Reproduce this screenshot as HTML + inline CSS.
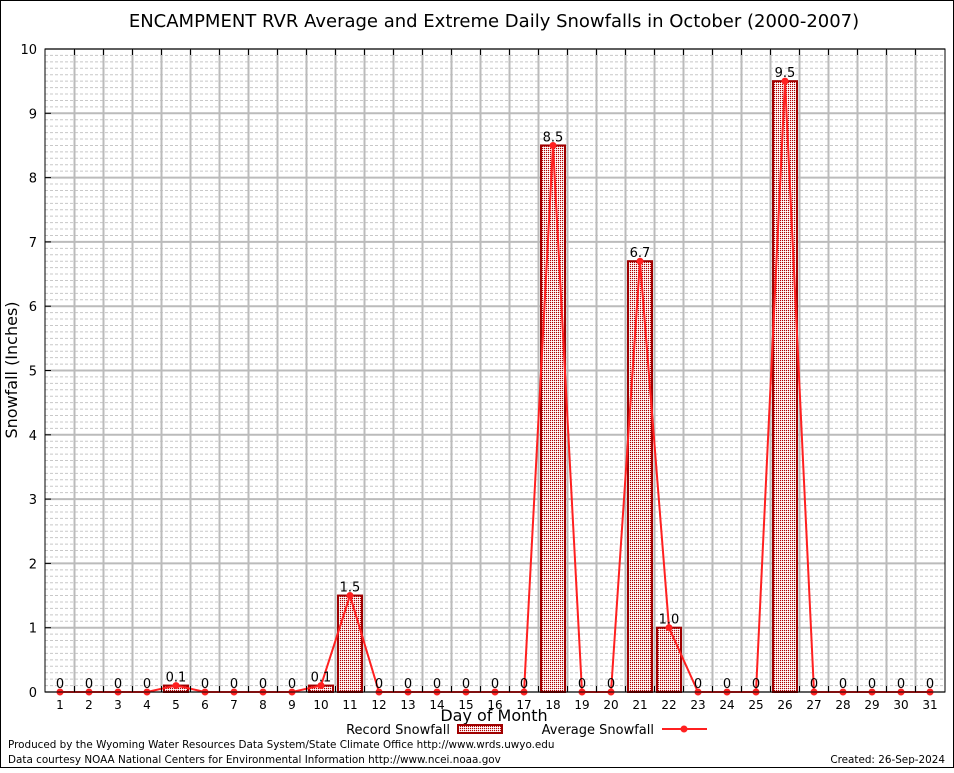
<!DOCTYPE html>
<html><head><meta charset="utf-8"><style>
body{margin:0;background:#fff}
svg text{font-family:"DejaVu Sans","Liberation Sans",sans-serif}
</style></head><body>
<svg id="chart" width="954" height="768" xmlns="http://www.w3.org/2000/svg">
<defs>
<pattern id="chk" width="2" height="2" patternUnits="userSpaceOnUse">
<rect width="2" height="2" fill="#f4d8d8"/><rect width="1" height="1" fill="#b00000"/><rect x="1" y="1" width="1" height="1" fill="#fff"/>
</pattern>
</defs>
<rect x="0.5" y="0.5" width="953" height="767" fill="#fff" stroke="#000"/>
<text x="494" y="27" font-size="18" text-anchor="middle">ENCAMPMENT RVR Average and Extreme Daily Snowfalls in October (2000-2007)</text>
<g id="grid"></g>
<g id="bars"></g>
<g id="line"></g>
<g id="labels"></g>
<g id="axes"></g>
<text x="17" y="370" font-size="16" text-anchor="middle" transform="rotate(-90 17 370)">Snowfall (Inches)</text>
<text x="494" y="721" font-size="16" text-anchor="middle">Day of Month</text>
<text x="450" y="734" font-size="13" text-anchor="end">Record Snowfall</text>
<rect x="458" y="725" width="44" height="8" fill="url(#chk)" stroke="#a00000" stroke-width="2"/>
<text x="654" y="734" font-size="13" text-anchor="end">Average Snowfall</text>
<line x1="662" y1="729" x2="707" y2="729" stroke="#ff2020" stroke-width="2"/>
<circle cx="684" cy="729" r="3.5" fill="#ff2020"/>
<text x="8" y="748" font-size="10.4">Produced by the Wyoming Water Resources Data System/State Climate Office http://www.wrds.uwyo.edu</text>
<text x="8" y="763" font-size="10.4">Data courtesy NOAA National Centers for Environmental Information http://www.ncei.noaa.gov</text>
<text x="945" y="763" font-size="10.4" text-anchor="end">Created: 26-Sep-2024</text>
</svg>
<script>
const days=[1,2,3,4,5,6,7,8,9,10,11,12,13,14,15,16,17,18,19,20,21,22,23,24,25,26,27,28,29,30,31];
const records=[0,0,0,0,0.1,0,0,0,0,0.1,1.5,0,0,0,0,0,0,8.5,0,0,6.7,1.0,0,0,0,9.5,0,0,0,0,0];
const averages=[0,0,0,0,0.1,0,0,0,0,0.1,1.5,0,0,0,0,0,0,8.5,0,0,6.7,1.0,0,0,0,9.5,0,0,0,0,0];
const recordLabels=["0","0","0","0","0.1","0","0","0","0","0.1","1.5","0","0","0","0","0","0","8.5","0","0","6.7","1.0","0","0","0","9.5","0","0","0","0","0"];
const yTicks=[0,1,2,3,4,5,6,7,8,9,10];
const L=45,R=945,T=49,B=692;
const x=d=>60+(d-1)*29;
const y=v=>B-(v/10)*(B-T);
const NS="http://www.w3.org/2000/svg";
function mk(p,tag,attrs){const e=document.createElementNS(NS,tag);for(const k in attrs)e.setAttribute(k,attrs[k]);p.appendChild(e);return e;}
const grid=document.getElementById('grid');
for(let i=1;i<100;i++){if(i%10===0)continue;
const e=mk(grid,'line',{x1:L,x2:R,y1:y(i/10),y2:y(i/10),stroke:'#c8c8c8','stroke-dasharray':'3,2','stroke-width':1});

}
yTicks.forEach(v=>{const e=mk(grid,'line',{x1:L,x2:R,y1:y(v),y2:y(v),stroke:'#bbb','stroke-width':2});

});
for(let d=1;d<31;d++){const xx=x(d)+14.5;const e=mk(grid,'line',{x1:xx,x2:xx,y1:T,y2:B,stroke:'#bbb','stroke-width':2});

}
const bars=document.getElementById('bars');
days.forEach((d,i)=>{if(records[i]<=0)return;
const e=mk(bars,'rect',{x:x(d)-12,y:y(records[i]),width:24,height:B-y(records[i]),fill:'url(#chk)',stroke:'#a00000','stroke-width':2});

});
const line=document.getElementById('line');
const pl=mk(line,'polyline',{points:days.map((d,i)=>x(d)+','+y(averages[i])).join(' '),fill:'none',stroke:'#ff2020','stroke-width':2});


days.forEach((d,i)=>{const c=mk(line,'circle',{cx:x(d),cy:y(averages[i]),r:3.5,fill:'#ff2020'});

});
const labels=document.getElementById('labels');
days.forEach((d,i)=>{const t=mk(labels,'text',{x:x(d),y:y(records[i])-4,'font-size':13,'text-anchor':'middle'});t.textContent=recordLabels[i];

});
const axes=document.getElementById('axes');
const fr=mk(axes,'rect',{x:L,y:T,width:R-L,height:B-T,fill:'none',stroke:'#000','stroke-width':1});


yTicks.forEach(v=>{const t=mk(axes,'text',{x:L-8,y:y(v)+5,'font-size':13,'text-anchor':'end','font-family':'Liberation Serif, serif'});t.textContent=v;


mk(axes,'line',{x1:L,x2:L+6,y1:y(v),y2:y(v),stroke:'#000'});});
days.forEach(d=>{const t=mk(axes,'text',{x:x(d),y:B+17,'font-size':12,'text-anchor':'middle','font-family':'Liberation Serif, serif'});t.textContent=d;


if(d<31){mk(axes,'line',{x1:x(d)+14.5,x2:x(d)+14.5,y1:B,y2:B-6,stroke:'#000'});mk(axes,'line',{x1:x(d)+14.5,x2:x(d)+14.5,y1:T,y2:T+6,stroke:'#000'});}});
</script>
</body></html>
